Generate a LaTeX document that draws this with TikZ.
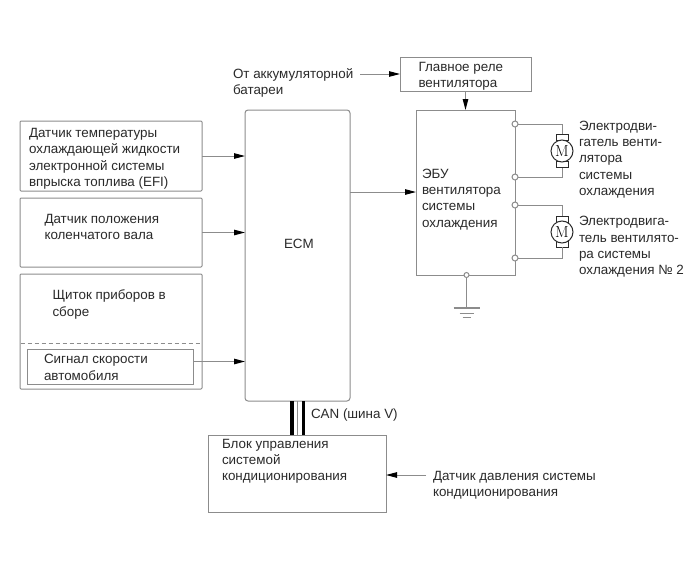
\documentclass[tikz,border=0pt]{standalone}
\usepackage{fontspec}
\setmainfont{Liberation Sans}
\usetikzlibrary{arrows.meta,calc}
\definecolor{wire}{HTML}{8C8C8C}
\definecolor{ink}{HTML}{2A2A2A}
\tikzset{
  x=1pt,y=-1pt,
  boxed/.style={draw=wire,line width=1pt,fill=white,anchor=north west,inner sep=0pt,outer sep=0pt},
  caption/.style={anchor=north west,inner sep=0pt,outer sep=0pt,align=left,text=ink,
    font=\fontsize{13.4pt}{16.25pt}\selectfont},
  signal/.style={draw=wire,line width=1pt,-{Triangle[length=11pt,width=5.5pt,black]}},
  lead/.style={draw=wire,line width=1pt},
  tap/.style={circle,draw=wire,line width=1pt,fill=white,minimum size=6pt,inner sep=0pt,outer sep=0pt},
  rotor/.style={circle,draw=ink,line width=1pt,fill=white,minimum size=22pt,inner sep=0pt,
    font=\fontfamily{lmr}\fontsize{16pt}{16pt}\selectfont},
  brush/.style={draw=ink,line width=.8pt,fill=white,minimum width=12pt,minimum height=6pt,inner sep=0pt},
}
\newcommand{\boxnode}[6][]{\node[boxed,minimum width=#5pt,minimum height=#6pt,#1] (#2) at (#3,#4) {};}
\begin{document}
\begin{tikzpicture}
\useasboundingbox (0,0) rectangle (690,562);
\fill[white] (0,0) rectangle (690,562);

% input blocks on the left
\boxnode[rounded corners=1pt]{coolant}{20}{121}{182}{70}
\boxnode[rounded corners=1pt]{crank}{20}{198}{182}{69}
\boxnode[rounded corners=1pt]{cluster}{20}{274}{182}{115}
\boxnode{speed}{27.5}{349.5}{166}{35}
\node[draw=none,inner sep=0pt] (dashL) at (20,343) {};
\node[draw=none,inner sep=0pt] (dashR) at (202,343) {};
\draw[wire,line width=1pt,dash pattern=on 4pt off 3pt] (dashL) -- (dashR);

% controllers
\boxnode[rounded corners=3pt]{ecm}{245}{110}{105}{291}
\boxnode{fanecu}{416}{110}{99}{165}
\boxnode{relay}{400}{57}{131}{34}
\boxnode{ac}{208}{435}{178}{77}

% free ends of the connectors
\coordinate (speedout) at (193.5,361.5);
\coordinate (batt) at (360,74);
\coordinate (ecmout) at (350,192);
\coordinate (pressure) at (426,475);
\coordinate (relayout) at (465.5,91);
\coordinate (gnd) at (466.5,308);

% signal arrows
\draw[signal] (coolant.east) -- (coolant.east -| ecm.west);
\draw[signal] (crank.east) -- (crank.east -| ecm.west);
\draw[signal] (speedout) -- (speedout -| ecm.west);
\draw[signal] (batt) -- (batt -| relay.west);
\draw[signal] (ecmout) -- (ecmout -| fanecu.west);
\draw[signal] (relayout) -- (relayout |- fanecu.north);
\draw[signal] (pressure) -- (pressure -| ac.east);

% CAN bus bars
\coordinate (canA) at (292,401);
\coordinate (canM) at (297.5,401);
\coordinate (canB) at (303.5,401);
\draw[black,line width=4pt] (canA) -- (canA |- ac.north);
\draw[wire,line width=1pt] (canM) -- (canM |- ac.north);
\draw[black,line width=3.6pt] (canB) -- (canB |- ac.north);

% terminals of the fan ECU
\node[tap] (t1) at (515,124) {};
\node[tap] (t2) at (515,177) {};
\node[tap] (t3) at (515,205) {};
\node[tap] (t4) at (515,258) {};
\node[tap,minimum size=5pt] (t5) at (466.5,275) {};

% fan motors
\node[brush] (m1top) at (562,137.5) {};
\node[brush] (m1bot) at (562,164.5) {};
\node[rotor] (m1) at (562,151) {M};
\node[brush] (m2top) at (562,219) {};
\node[brush] (m2bot) at (562,244) {};
\node[rotor] (m2) at (562,232) {M};
\draw[lead] (t1) -| (m1top.north);
\draw[lead] (t2) -| (m1bot.south);
\draw[lead] (t3) -| (m2top.north);
\draw[lead] (t4) -| (m2bot.south);

% ground symbol
\draw[lead] (t5) -- (gnd);
\draw[wire,line width=1.2pt] ($(gnd)+(-13,0)$) -- ($(gnd)+(13,0)$);
\draw[wire,line width=1pt] ($(gnd)+(-7,5)$) -- ($(gnd)+(7,5)$);
\draw[wire,line width=1pt] ($(gnd)+(-4,9)$) -- ($(gnd)+(4,9)$);

% labels
\node[caption] at (29,128.5) {Датчик температуры\\охлаждающей жидкости\\электронной системы\\впрыска топлива (EFI)};
\node[caption] at (44.5,214) {Датчик положения\\коленчатого вала};
\node[caption] at (52.5,290) {Щиток приборов в\\сборе};
\node[caption] at (44,354.5) {Сигнал скорости\\автомобиля};
\node[caption] at (233,68.5) {От аккумуляторной\\батареи};
\node[caption] at (284,239) {ECM};
\node[caption] at (418.5,62) {Главное реле\\вентилятора};
\node[caption] at (422,169) {ЭБУ\\вентилятора\\системы\\охлаждения};
\node[caption] at (579,121) {Электродви-\\гатель венти-\\лятора\\системы\\охлаждения};
\node[caption] at (579,216.5) {Электродвига-\\тель вентилято-\\ра системы\\охлаждения № 2};
\node[caption] at (311,409) {CAN (шина V)};
\node[caption] at (222,439) {Блок управления\\системой\\кондиционирования};
\node[caption] at (433,471) {Датчик давления системы\\кондиционирования};
\end{tikzpicture}
\end{document}
